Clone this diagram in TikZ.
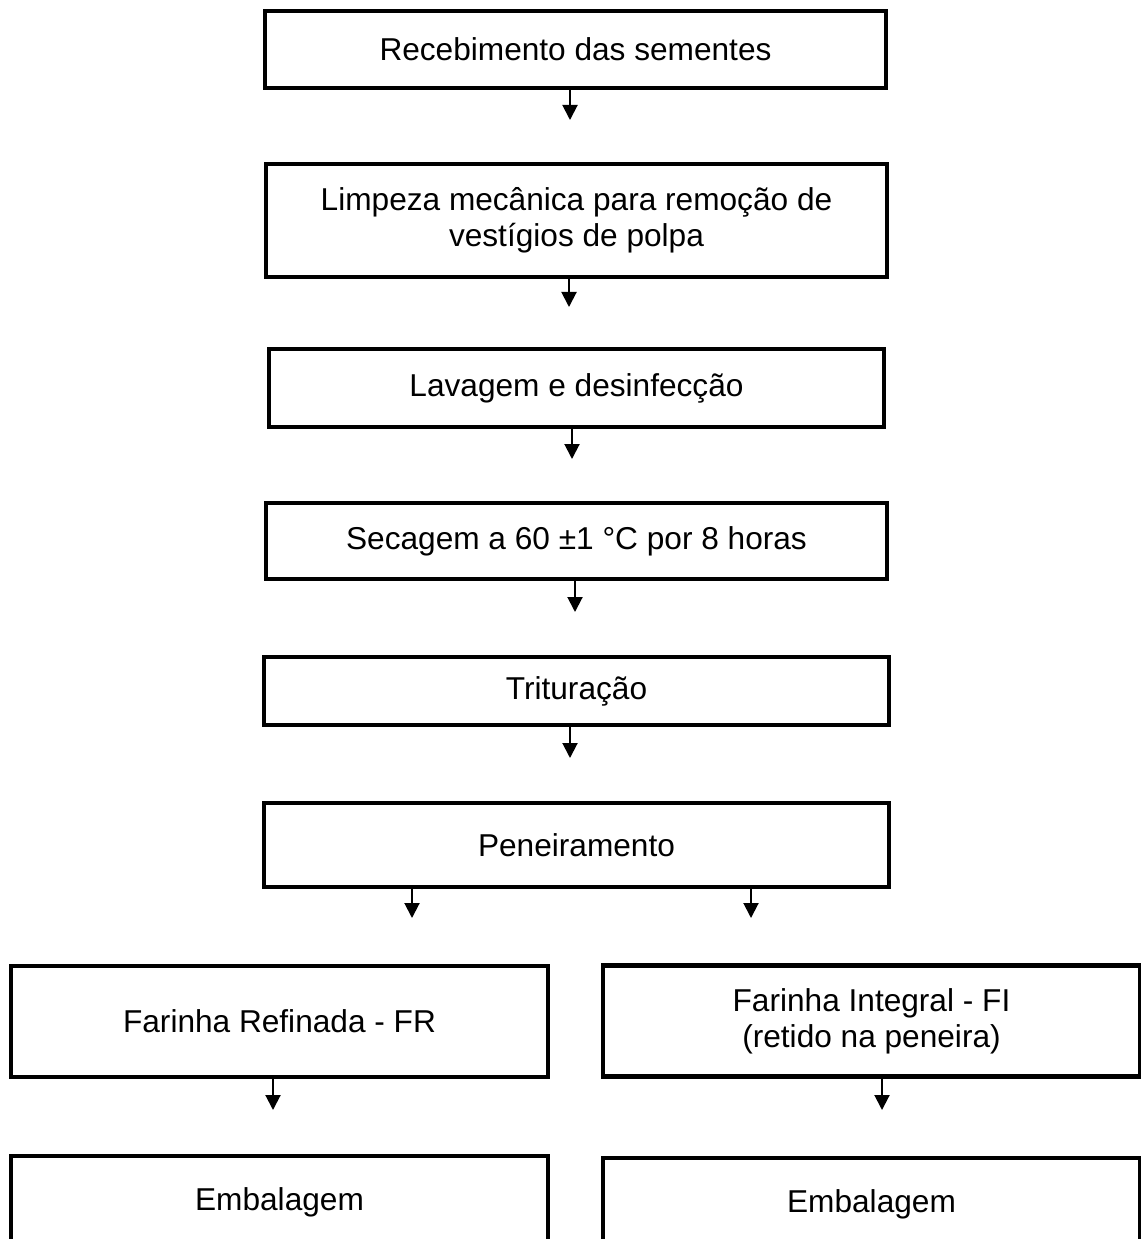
\documentclass[tikz,border=0pt]{standalone}
\usepackage{fontspec}
\setmainfont{Liberation Sans}
\usetikzlibrary{arrows.meta}

\begin{document}
\begin{tikzpicture}[
    x=0.02cm, y=-0.02cm,
    etapa/.style={rectangle, draw, line width=0.09cm, inner sep=2pt, align=center,
      font=\fontsize{18}{20.5}\selectfont},
    larga/.style={etapa, minimum width=12.42cm},
    lado/.style={etapa, minimum width=10.74cm},
    seta/.style={-{Triangle[width=0.3cm,length=0.3cm]}, line width=0.04cm}
  ]
  \clip (0,0) rectangle (1141,1239);
  % etapas em sequencia
  \node[larga, minimum height=1.54cm] (recebimento) at (575.5,49.5) {Recebimento das sementes};
  \node[larga, minimum height=2.26cm] (limpeza) at (576.5,220.5) {Limpeza mecânica para remoção de\\vestígios de polpa};
  \node[larga, minimum height=1.56cm, minimum width=12.3cm] (lavagem) at (576.5,388) {Lavagem e desinfecção};
  \node[larga, minimum height=1.52cm] (secagem) at (576.5,541) {Secagem a 60 ±1 °C por 8 horas};
  \node[larga, minimum height=1.36cm, minimum width=12.5cm] (trituracao) at (576.5,691) {Trituração};
  \node[larga, minimum height=1.68cm, minimum width=12.5cm] (peneiramento) at (576.5,845) {Peneiramento};
  % as duas farinhas
  \node[lado, minimum height=2.22cm] (refinada) at (279.5,1021.5) {Farinha Refinada - FR};
  \node[lado, minimum height=2.22cm] (integral) at (871.5,1021) {Farinha Integral - FI\\(retido na peneira)};
  \node[lado, minimum height=1.84cm] (embRefinada) at (279.5,1202) {Embalagem};
  \node[lado, minimum height=1.84cm] (embIntegral) at (871.5,1204) {Embalagem};
  % pontas das setas
  \coordinate (p1) at (570,120);
  \coordinate (p2) at (569,307);
  \coordinate (p3) at (572,459);
  \coordinate (p4) at (575,612);
  \coordinate (p5) at (570,758);
  \coordinate (p6a) at (412,918);
  \coordinate (p6b) at (751,918);
  \coordinate (p7a) at (273,1110);
  \coordinate (p7b) at (882,1110);
  \draw[seta] (recebimento.south -| p1) -- (p1);
  \draw[seta] (limpeza.south -| p2) -- (p2);
  \draw[seta] (lavagem.south -| p3) -- (p3);
  \draw[seta] (secagem.south -| p4) -- (p4);
  \draw[seta] (trituracao.south -| p5) -- (p5);
  \draw[seta] (peneiramento.south -| p6a) -- (p6a);
  \draw[seta] (peneiramento.south -| p6b) -- (p6b);
  \draw[seta] (refinada.south -| p7a) -- (p7a);
  \draw[seta] (integral.south -| p7b) -- (p7b);
\end{tikzpicture}
\end{document}
